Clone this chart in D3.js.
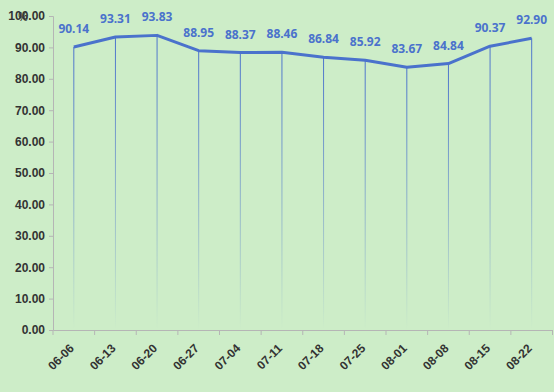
<!DOCTYPE html>
<html><head><meta charset="utf-8">
<script src="https://cdn.jsdelivr.net/npm/d3@7/dist/d3.min.js"></script>
<style>body{margin:0;background:#cdedc8;}svg{display:block;font-family:"Noto Sans","DejaVu Sans",sans-serif;}</style>
</head><body>
<script>
const categories = ["06-06","06-13","06-20","06-27","07-04","07-11","07-18","07-25","08-01","08-08","08-15","08-22"];
const values = [90.14,93.31,93.83,88.95,88.37,88.46,86.84,85.92,83.67,84.84,90.37,92.90];
const yTicks = [0,10,20,30,40,50,60,70,80,90,100];

const W=554,H=392;
const svg=d3.select("body").append("svg").attr("width",W).attr("height",H);
svg.append("rect").attr("width",W).attr("height",H).attr("fill","#cdedc8");
const x=d3.scaleBand().domain(categories).range([53,552.5]);
const y=d3.scaleLinear().domain([0,100]).range([330,16]);
const blue="#4a72cc";

const defs=svg.append("defs");
const g=defs.append("linearGradient").attr("id","fade").attr("x1",0).attr("y1",0).attr("x2",0).attr("y2",1);
g.append("stop").attr("offset","0%").attr("stop-color",blue).attr("stop-opacity",1);
g.append("stop").attr("offset","100%").attr("stop-color",blue).attr("stop-opacity",0);

// axes
const ya=svg.append("g").attr("transform","translate(53,0)").call(d3.axisLeft(y).tickValues(yTicks).tickFormat(d3.format(".2f")).tickSize(4).tickPadding(4));
ya.select(".domain").attr("stroke","#b5b5b5");
ya.selectAll(".tick line").attr("stroke","#b5b5b5");
ya.selectAll("text").attr("fill","#333").attr("font-size",12).attr("font-weight","bold");

const xa=svg.append("g").attr("transform","translate(0,330)").call(d3.axisBottom(x).tickSize(0).tickSizeOuter(0));
xa.select(".domain").attr("stroke","#b5b5b5");
xa.selectAll(".tick line").remove();
xa.selectAll(".tick text").attr("fill","#333").attr("font-size",12).attr("font-weight","bold")
  .attr("text-anchor","end").attr("dy",null).attr("y",0)
  .attr("transform","translate(1,19) rotate(-45)");
// tick marks at band boundaries
const bounds=categories.map(c=>x(c)).concat([x.range()[1]]);
svg.append("g").selectAll("line").data(bounds).join("line")
  .attr("x1",d=>d).attr("x2",d=>d).attr("y1",330).attr("y2",335).attr("stroke","#b5b5b5");

svg.append("text").attr("x",18).attr("y",21).attr("fill","#333").attr("font-size",12).text("%");

const cx=d=>x(d)+x.bandwidth()/2;
// drop lines
svg.append("g").selectAll("rect").data(categories).join("rect")
  .attr("x",(d)=>cx(d)-0.5).attr("width",1)
  .attr("y",(d,i)=>y(values[i])).attr("height",(d,i)=>330-y(values[i]))
  .attr("fill","url(#fade)");

const line=d3.line().x((d,i)=>cx(categories[i])).y(d=>y(d));
svg.append("path").datum(values).attr("d",line).attr("fill","none").attr("stroke",blue).attr("stroke-width",3).attr("stroke-linejoin","round");

svg.append("g").selectAll("text").data(values).join("text")
  .attr("x",(d,i)=>cx(categories[i])).attr("y",d=>y(d)-14)
  .attr("text-anchor","middle").attr("fill",blue).attr("font-size",12).attr("font-weight","bold")
  .text(d=>d.toFixed(2));
</script>
</body></html>
